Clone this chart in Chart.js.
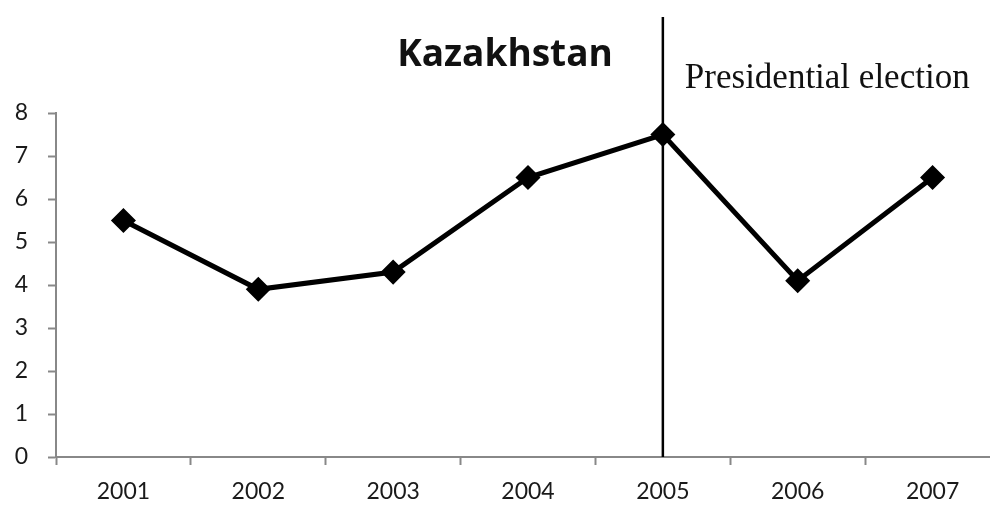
<!DOCTYPE html>
<html>
<head>
<meta charset="utf-8">
<script src="https://cdn.jsdelivr.net/npm/chart.js@4.4.0/dist/chart.umd.min.js"></script>
<style>
  html, body { margin: 0; padding: 0; background: #fff; overflow: hidden; }
  canvas { display: block; }
</style>
</head>
<body>
<!-- the original plot runs a little past the right edge of the picture -->
<canvas id="chart" width="1014" height="507"></canvas>
<script>
// data
const years  = ['2001', '2002', '2003', '2004', '2005', '2006', '2007'];
const values = [5.5, 3.9, 4.3, 6.5, 7.5, 4.1, 6.5];
const electionYear = '2005';
const chartTitle = 'Kazakhstan';
const electionLabel = 'Presidential election';

// title + election marker, drawn from the scales
const electionPlugin = {
  id: 'election',
  afterDatasetsDraw(chart) {
    const { ctx, chartArea, scales } = chart;
    const x = scales.x.getPixelForValue(years.indexOf(electionYear));
    ctx.save();
    ctx.strokeStyle = '#000';
    ctx.lineWidth = 2.5;
    ctx.beginPath();
    ctx.moveTo(x, 17);
    ctx.lineTo(x, chartArea.bottom);
    ctx.stroke();

    ctx.fillStyle = '#111';
    ctx.font = '35px "Liberation Serif", serif';
    ctx.textAlign = 'left';
    ctx.textBaseline = 'alphabetic';
    ctx.fillText(electionLabel, x + 22, 88);

    ctx.font = 'bold 37px "Open Sans", sans-serif';
    ctx.textAlign = 'center';
    ctx.fillText(chartTitle, 505, 66);
    ctx.restore();
  }
};

const ctx = document.getElementById('chart').getContext('2d');
new Chart(ctx, {
  type: 'line',
  data: {
    labels: years,
    datasets: [{
      data: values,
      borderColor: '#000',
      backgroundColor: '#000',
      borderWidth: 5,
      pointStyle: 'rectRot',
      pointRadius: 9,
      pointHoverRadius: 9,
      tension: 0
    }]
  },
  options: {
    responsive: false,
    animation: false,
    devicePixelRatio: 1,
    layout: { padding: { top: 113, right: 0, left: 0, bottom: 0 } },
    plugins: {
      legend: { display: false },
      tooltip: { enabled: false }
    },
    scales: {
      x: {
        offset: true,
        grid: {
          offset: true,
          drawOnChartArea: false,
          drawTicks: true,
          tickLength: 8,
          tickWidth: 2,
          tickColor: '#888'
        },
        border: { color: '#888', width: 2 },
        ticks: {
          color: '#1a1a1a',
          padding: 13,
          font: { family: 'Lato', size: 23 }
        },
        afterFit: (scale) => { scale.height = 50; }
      },
      y: {
        min: 0,
        max: 8,
        ticks: {
          stepSize: 1,
          color: '#1a1a1a',
          padding: 20,
          font: { family: 'Lato', size: 23 }
        },
        grid: {
          drawOnChartArea: false,
          drawTicks: true,
          tickLength: 8,
          tickWidth: 2,
          tickColor: '#888'
        },
        border: { color: '#888', width: 2 },
        afterFit: (scale) => { scale.width = 56; }
      }
    }
  },
  plugins: [electionPlugin]
});
</script>
</body>
</html>
